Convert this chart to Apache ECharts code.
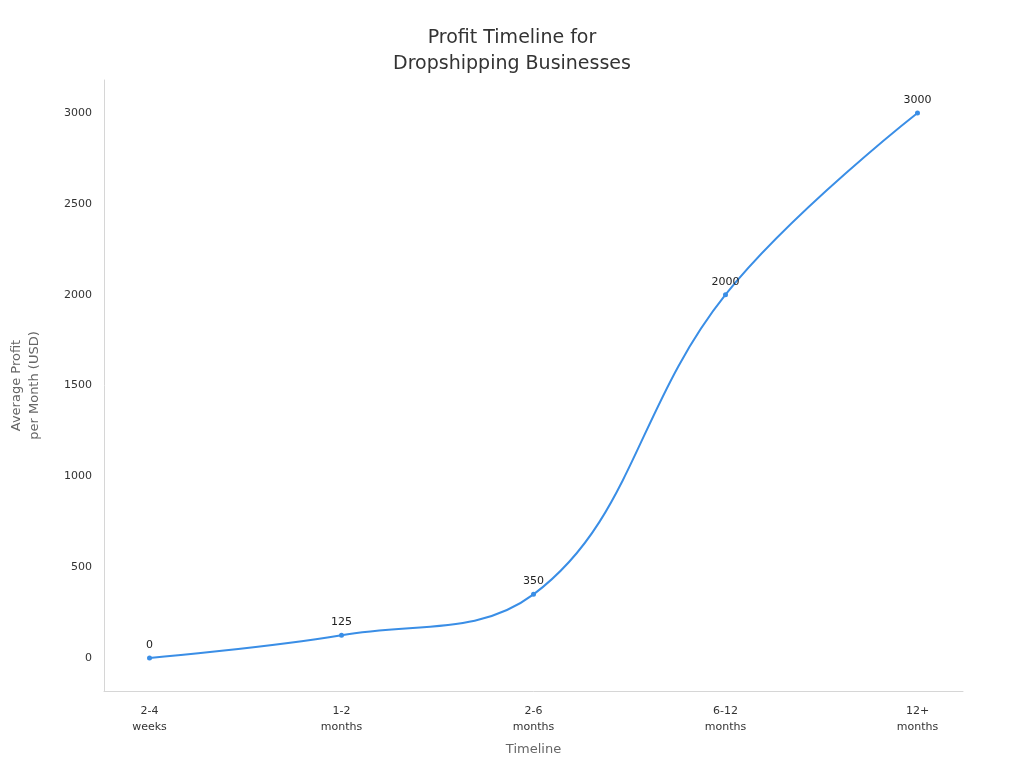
<!DOCTYPE html>
<html>
<head>
<meta charset="utf-8">
<script src="https://cdn.jsdelivr.net/npm/echarts@6/dist/echarts.min.js"></script>
<style>html,body{margin:0;padding:0;background:#fff}#chart{width:1024px;height:768px}</style>
</head>
<body>
<div id="chart"></div>
<script>
const categories = ['2-4\nweeks', '1-2\nmonths', '2-6\nmonths', '6-12\nmonths', '12+\nmonths'];
const profits = [0, 125, 350, 2000, 3000];
const yTicks = [0, 500, 1000, 1500, 2000, 2500, 3000];

const axisColor = '#d6d6d6';
const font = 'DejaVu Sans';

echarts.init(document.getElementById('chart')).setOption({
    textStyle: { fontFamily: font },
    title: {
        text: 'Profit Timeline for\nDropshipping Businesses',
        left: 'center',
        top: 20,
        textStyle: { fontFamily: font, fontSize: 19, fontWeight: 'normal', color: '#333', lineHeight: 26 }
    },
    grid: { left: 95, right: 61, top: 80, bottom: 77 },
    xAxis: {
        type: 'value',
        min: -0.237,
        max: 4.237,
        name: 'Timeline',
        nameLocation: 'middle',
        nameGap: 52,
        nameTextStyle: { fontSize: 13, color: '#666' },
        splitLine: { show: false },
        axisLine: { show: true, onZero: false, lineStyle: { color: axisColor } },
        axisTick: { show: false },
        axisLabel: {
            customValues: [0, 1, 2, 3, 4],
            formatter: v => categories[Math.round(v)],
            color: '#333', fontSize: 11, lineHeight: 16, margin: 12
        }
    },
    yAxis: {
        type: 'value',
        min: -182,
        max: 3182,
        name: 'Average Profit\nper Month (USD)',
        nameLocation: 'middle',
        nameGap: 60,
        nameTextStyle: { fontSize: 13, color: '#666', lineHeight: 18 },
        splitLine: { show: false },
        axisLine: { show: true, onZero: false, lineStyle: { color: axisColor } },
        axisTick: { show: false },
        axisLabel: { customValues: yTicks, formatter: v => String(v), color: '#333', fontSize: 11, margin: 12 }
    },
    series: [{
        type: 'line',
        data: profits.map((v, i) => [i, v]),
        smooth: 0.4,
        symbol: 'circle',
        symbolSize: 5,
        lineStyle: { color: '#3a8ee6', width: 2 },
        itemStyle: { color: '#3a8ee6' },
        label: { show: true, position: 'top', color: '#222', fontSize: 11, formatter: p => p.value[1] }
    }]
});
</script>
</body>
</html>
